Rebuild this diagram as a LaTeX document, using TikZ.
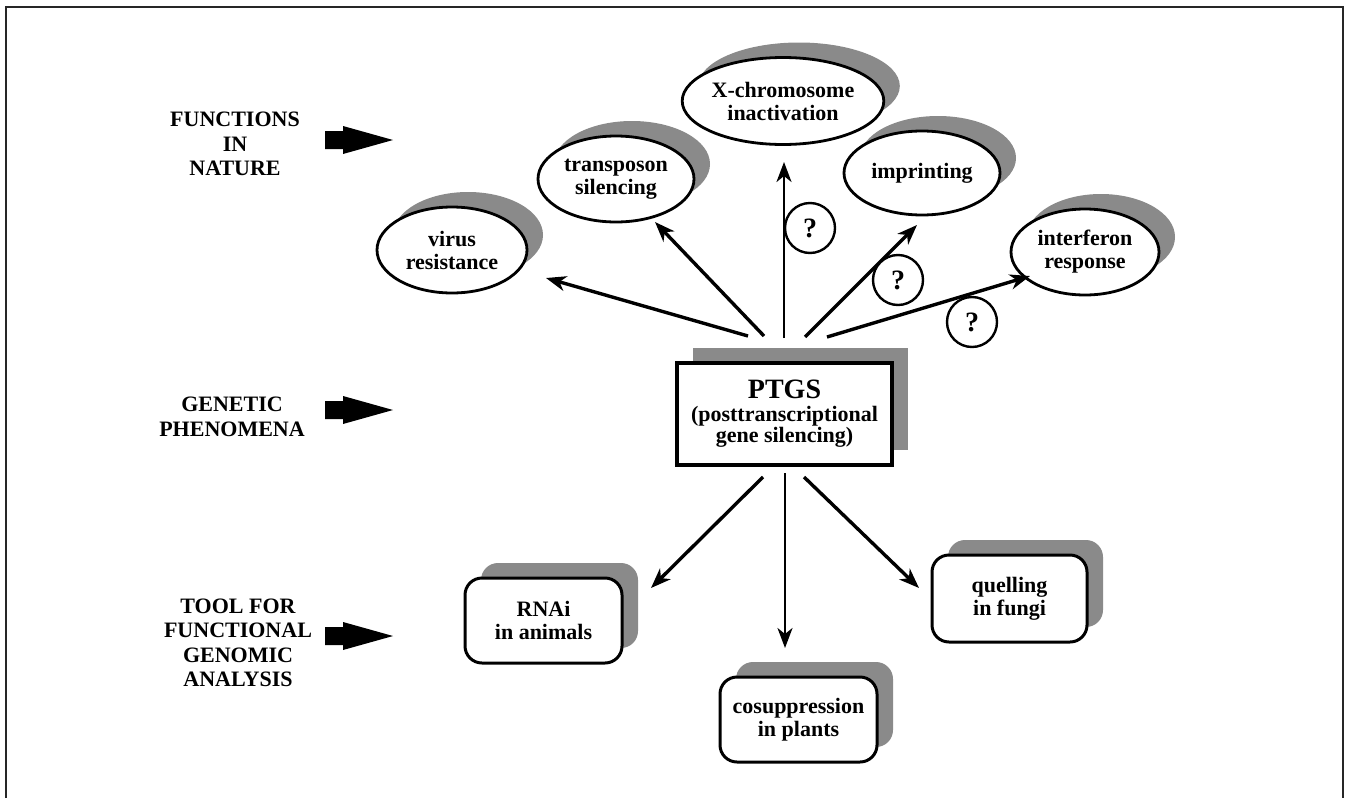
\documentclass[tikz,border=0pt]{standalone}
\usepackage{fontspec}
\setmainfont{Liberation Serif}
\usetikzlibrary{arrows.meta,shapes.geometric,shadows,calc}
\definecolor{shd}{RGB}{138,138,138}
\begin{document}
\begin{tikzpicture}[x=1pt,y=-1pt,
  lbl/.style={font=\bfseries\fontsize{22}{24.5}\selectfont, align=center, inner sep=0pt},
  myshadow/.style={drop shadow={shadow xshift=16pt, shadow yshift=15pt, fill=shd, opacity=1}},
  oval/.style={ellipse, draw, line width=2.8pt, fill=white, inner sep=0pt, myshadow,
    font=\bfseries\fontsize{22}{23}\selectfont, align=center},
  rbox/.style={rectangle, rounded corners=17pt, draw, line width=3pt, fill=white, inner sep=0pt, myshadow,
    minimum width=157pt, minimum height=85pt, font=\bfseries\fontsize{22}{23}\selectfont, align=center},
  mainbox/.style={rectangle, draw, line width=3.2pt, fill=white, inner sep=0pt, myshadow,
    minimum width=215pt, minimum height=102pt, font=\bfseries\fontsize{22}{21.5}\selectfont, align=center},
  qm/.style={circle, draw, line width=2.4pt, fill=white, minimum size=50pt, inner sep=0pt,
    font=\bfseries\fontsize{28}{28}\selectfont},
  conn/.style={line width=3.4pt, -{Stealth[length=20pt,width=15pt,inset=6pt]}},
  vconn/.style={line width=2.5pt, -{Stealth[length=20pt,width=15pt,inset=6pt]}},
  blockarrow/.pic={\fill (0,-9) -- (18,-9) -- (18,-14) -- (68,0) -- (18,14) -- (18,9) -- (0,9) -- cycle;}
]
\useasboundingbox (0,0) rectangle (1348,798);
% frame
\draw[line width=2.2pt, black!85] (6,798) -- (6,7) -- (1343,7) -- (1343,798);

% left labels
\node[lbl] (fn) at (235,144) {FUNCTIONS\\IN\\NATURE};
\node[lbl] (gp) at (232,417) {GENETIC\\PHENOMENA};
\node[lbl] (tf) at (238,643) {TOOL FOR\\FUNCTIONAL\\GENOMIC\\ANALYSIS};
\pic at (325,140) {blockarrow};
\pic at (325,410) {blockarrow};
\pic at (325,636) {blockarrow};

% ellipses
\node[oval, minimum width=150pt, minimum height=86pt] (virus) at (452,250) {virus\\resistance};
\node[oval, minimum width=156pt, minimum height=86pt] (trans) at (616,179) {transposon\\silencing};
\node[oval, minimum width=182pt, minimum height=87pt] (xchr) at (783,101) {X-chromosome\\inactivation};
\node[oval, minimum width=156pt, minimum height=84pt] (impr) at (922,173) {imprinting};
\node[oval, minimum width=148pt, minimum height=86pt] (inter) at (1085,252) {interferon\\response};

% central box
\node[mainbox] (ptgs) at (784.5,414) {{\fontsize{28}{30}\selectfont PTGS}\\[1pt](posttranscriptional\\gene silencing)};

% bottom boxes
\node[rbox] (rnai) at (543.5,620.5) {RNAi\\in animals};
\node[rbox] (cosup) at (798.5,719.5) {cosuppression\\in plants};
\node[rbox, minimum width=155pt, minimum height=87pt] (quell) at (1009.5,598.5) {quelling\\in fungi};

% connector end points
\coordinate (s1) at (748,336); \coordinate (t1) at (546,278);
\coordinate (s2) at (764,336); \coordinate (t2) at (655,222);
\coordinate (s3) at (784,338); \coordinate (t3) at (784,162);
\coordinate (s4) at (805,337); \coordinate (t4) at (917,225);
\coordinate (s5) at (827,337); \coordinate (t5) at (1030,276);
\coordinate (b1) at (763,477); \coordinate (u1) at (651,588);
\coordinate (b2) at (785,473); \coordinate (u2) at (785,648);
\coordinate (b3) at (804,477); \coordinate (u3) at (919,588);

\draw[conn] (s1) -- (t1);
\draw[conn] (s2) -- (t2);
\draw[vconn] (s3) -- (t3);
\draw[conn] (s4) -- (t4);
\draw[conn] (s5) -- (t5);
\draw[conn] (b1) -- (u1);
\draw[vconn] (b2) -- (u2);
\draw[conn] (b3) -- (u3);

% question marks
\node[qm] (q1) at (810,228) {?};
\node[qm] (q2) at (898,280) {?};
\node[qm] (q3) at (972,322) {?};
\end{tikzpicture}
\end{document}
